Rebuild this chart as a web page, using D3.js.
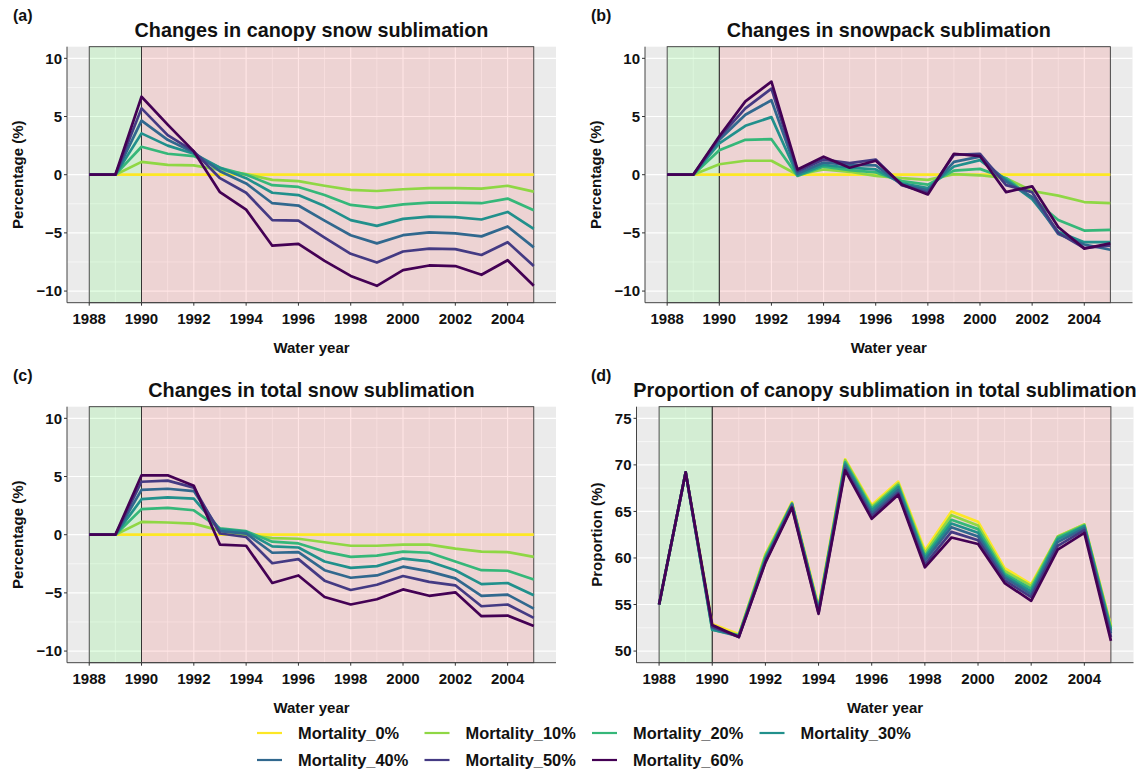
<!DOCTYPE html>
<html><head><meta charset="utf-8">
<script src="https://cdn.jsdelivr.net/npm/d3@7/dist/d3.min.js"></script>
<style>
body{margin:0;background:#fff}
text{font-family:"Liberation Sans",Arial,sans-serif;font-weight:bold;fill:#111}
</style>
</head><body>
<svg id="chart" width="1144" height="774"></svg>
<script>
// ---------------- DATA ----------------
const years = [1988,1989,1990,1991,1992,1993,1994,1995,1996,1997,1998,1999,2000,2001,2002,2003,2004,2005];
const seriesNames = ["Mortality_0%","Mortality_10%","Mortality_20%","Mortality_30%","Mortality_40%","Mortality_50%","Mortality_60%"];
const seriesColors = ["#FDE725","#8FD744","#35B779","#21908C","#31688E","#443A83","#440154"];
const xTicks = [1988,1990,1992,1994,1996,1998,2000,2002,2004];
const pctTicks = [-10,-5,0,5,10];
const propTicks = [50,55,60,65,70,75];

// (a) Changes in canopy snow sublimation (%)
const canopyChange = [
  [0,0,0,0,0,0,0,0,0,0,0,0,0,0,0,0,0,0],
  [0,0,1.1,0.85,0.8,0.4,0.05,-0.45,-0.55,-0.95,-1.3,-1.4,-1.25,-1.15,-1.15,-1.2,-0.95,-1.45],
  [0,0,2.4,1.8,1.6,0.6,0.0,-0.9,-1.05,-1.75,-2.6,-2.85,-2.55,-2.4,-2.4,-2.45,-2.05,-3.05],
  [0,0,3.55,2.5,1.8,0.6,-0.3,-1.55,-1.75,-2.7,-3.9,-4.4,-3.8,-3.6,-3.65,-3.85,-3.2,-4.65],
  [0,0,4.65,3.0,1.9,0.3,-0.75,-2.45,-2.65,-3.95,-5.2,-5.9,-5.2,-4.95,-5.05,-5.3,-4.45,-6.25],
  [0,0,5.7,3.4,2.0,-0.3,-1.55,-3.9,-3.95,-5.4,-6.8,-7.55,-6.6,-6.35,-6.4,-6.9,-5.8,-7.85],
  [0,0,6.7,4.3,2.0,-1.5,-3.0,-6.1,-5.95,-7.4,-8.7,-9.55,-8.2,-7.8,-7.85,-8.6,-7.35,-9.55]
];
// (b) Changes in snowpack sublimation (%)
const snowpackChange = [
  [0,0,0,0,0,0,0,0,0,0,0,0,0,0,0,0,0,0],
  [0,0,0.9,1.2,1.2,0.0,0.45,0.25,-0.1,-0.3,-0.45,0.05,-0.05,-0.3,-1.4,-1.8,-2.35,-2.45],
  [0,0,2.1,3.0,3.05,-0.1,0.7,0.4,0.2,-0.55,-0.85,0.35,0.5,-0.3,-2.0,-3.9,-4.8,-4.75],
  [0,0,2.7,4.2,4.95,-0.05,0.85,0.6,0.45,-0.75,-1.15,0.7,1.25,-0.45,-2.1,-4.9,-5.8,-5.8],
  [0,0,3.0,5.15,6.4,0.1,1.05,0.85,0.8,-0.85,-1.35,1.1,1.55,-0.6,-1.9,-5.1,-6.0,-6.45],
  [0,0,3.2,5.7,7.4,0.3,1.3,1.0,1.3,-0.9,-1.55,1.7,1.8,-0.9,-1.5,-5.0,-6.3,-6.1],
  [0,0,3.3,6.3,8.0,0.45,1.55,0.6,1.2,-0.85,-1.7,1.8,1.6,-1.5,-1.0,-4.5,-6.35,-5.9]
];
// (c) Changes in total snow sublimation (%)
const totalChange = [
  [0,0,0,0,0,0,0,0,0,0,0,0,0,0,0,0,0,0],
  [0,0,1.1,1.05,0.95,0.35,0.0,-0.3,-0.35,-0.65,-0.95,-0.95,-0.85,-0.85,-1.2,-1.45,-1.5,-1.9],
  [0,0,2.2,2.3,2.1,0.55,0.3,-0.6,-0.75,-1.45,-1.9,-1.8,-1.45,-1.55,-2.3,-3.05,-3.1,-3.85],
  [0,0,3.05,3.2,3.1,0.45,0.25,-1.0,-1.1,-2.3,-2.85,-2.7,-2.05,-2.3,-3.05,-4.25,-4.15,-5.2],
  [0,0,3.85,3.95,3.75,0.3,0.1,-1.55,-1.5,-3.05,-3.7,-3.5,-2.75,-3.15,-3.75,-5.25,-5.15,-6.35],
  [0,0,4.55,4.65,4.05,0.1,-0.2,-2.45,-2.1,-3.95,-4.75,-4.3,-3.55,-4.05,-4.35,-6.15,-6.0,-7.15],
  [0,0,5.1,5.1,4.2,-0.85,-0.95,-4.15,-3.5,-5.35,-6.0,-5.55,-4.7,-5.25,-4.95,-7.0,-6.95,-7.85]
];
// (d) Proportion of canopy sublimation in total sublimation (%)
const canopyProportion = [
  [55.0,69.2,52.9,51.8,60.4,66.0,54.8,70.6,65.7,68.2,60.8,65.0,63.9,58.9,57.2,62.3,63.6,52.7],
  [55.0,69.2,52.6,51.7,60.3,65.9,54.6,70.5,65.5,68.0,60.5,64.6,63.5,58.6,57.0,62.3,63.6,52.6],
  [55.0,69.2,52.3,51.7,60.1,65.8,54.5,70.3,65.3,67.8,60.2,64.1,63.1,58.3,56.7,62.2,63.5,52.4],
  [55.0,69.2,52.3,51.6,59.9,65.8,54.4,70.1,65.1,67.6,60.0,63.7,62.7,58.1,56.4,62.0,63.4,52.2],
  [55.0,69.2,52.5,51.6,59.8,65.7,54.3,69.9,64.8,67.3,59.7,63.3,62.3,57.9,56.1,61.7,63.2,51.9],
  [55.0,69.2,52.6,51.5,59.6,65.5,54.1,69.6,64.5,67.0,59.3,62.8,61.9,57.6,55.8,61.3,63.0,51.5],
  [55.0,69.2,52.8,51.5,59.5,65.4,54.0,69.4,64.2,66.8,59.0,62.2,61.5,57.3,55.4,60.9,62.7,51.1]
];
const preStart = 1988, mortStart = 1990, mortEnd = 2005;

// ---------------- LAYOUT ----------------
const panels = [
  {data: canopyChange, tag:"(a)", title:"Changes in canopy snow sublimation", ytitle:"Percentage (%)",
   left:67, right:556, top:46.7, bottom:302.7, tagX:13, ytX:18, lim:[-10,10], ticks:pctTicks},
  {data: snowpackChange, tag:"(b)", title:"Changes in snowpack sublimation", ytitle:"Percentage (%)",
   left:645, right:1132.5, top:46.7, bottom:302.7, tagX:591, ytX:596, lim:[-10,10], ticks:pctTicks},
  {data: totalChange, tag:"(c)", title:"Changes in total snow sublimation", ytitle:"Percentage (%)",
   left:67, right:556, top:406.7, bottom:662.7, tagX:13, ytX:18, lim:[-10,10], ticks:pctTicks},
  {data: canopyProportion, tag:"(d)", title:"Proportion of canopy sublimation in total sublimation", ytitle:"Proportion (%)",
   left:636.5, right:1133.5, top:406.7, bottom:662.7, tagX:591, ytX:597, lim:[50,75], ticks:propTicks}
];

const svg = d3.select("#chart");
svg.append("rect").attr("width",1144).attr("height",774).attr("fill","#fff");
const fmt = v => (v < 0 ? "\u2212" + Math.abs(v) : String(v));

panels.forEach(p => {
  const xr = years[years.length-1] - years[0];
  const x = d3.scaleLinear().domain([years[0]-0.05*xr, years[years.length-1]+0.05*xr]).range([p.left, p.right]);
  const yr = p.lim[1]-p.lim[0];
  const y = d3.scaleLinear().domain([p.lim[0]-0.05*yr, p.lim[1]+0.05*yr]).range([p.bottom, p.top]);
  const g = svg.append("g");

  g.append("rect").attr("x",p.left).attr("y",p.top).attr("width",p.right-p.left).attr("height",p.bottom-p.top).attr("fill","#EBEBEB");

  // minor grid
  const step = p.ticks[1]-p.ticks[0];
  const yMinor = p.ticks.slice(0,-1).map(t => t+step/2);
  const xMinor = d3.range(years[0]+1, years[years.length-1]+1, 2);
  g.selectAll(null).data(yMinor).join("line")
    .attr("x1",p.left).attr("x2",p.right).attr("y1",d=>y(d)).attr("y2",d=>y(d))
    .attr("stroke","#fff").attr("stroke-width",0.6);
  g.selectAll(null).data(xMinor).join("line")
    .attr("y1",p.top).attr("y2",p.bottom).attr("x1",d=>x(d)).attr("x2",d=>x(d))
    .attr("stroke","#fff").attr("stroke-width",0.6);
  // major grid
  g.selectAll(null).data(p.ticks).join("line")
    .attr("x1",p.left).attr("x2",p.right).attr("y1",d=>y(d)).attr("y2",d=>y(d))
    .attr("stroke","#fff").attr("stroke-width",1.2);
  g.selectAll(null).data(xTicks).join("line")
    .attr("y1",p.top).attr("y2",p.bottom).attr("x1",d=>x(d)).attr("x2",d=>x(d))
    .attr("stroke","#fff").attr("stroke-width",1.2);

  // period rectangles
  g.append("rect").attr("x",x(preStart)).attr("width",x(mortStart)-x(preStart))
    .attr("y",p.top).attr("height",p.bottom-p.top)
    .attr("fill","#00FF00").attr("fill-opacity",0.1).attr("stroke","#333").attr("stroke-width",0.9);
  g.append("rect").attr("x",x(mortStart)).attr("width",x(mortEnd)-x(mortStart))
    .attr("y",p.top).attr("height",p.bottom-p.top)
    .attr("fill","#FF0000").attr("fill-opacity",0.1).attr("stroke","#333").attr("stroke-width",0.9);

  // lines
  const line = d3.line().x((d,i)=>x(years[i])).y(d=>y(d));
  p.data.forEach((s,k) => {
    g.append("path").attr("d",line(s)).attr("fill","none")
      .attr("stroke",seriesColors[k]).attr("stroke-width",2.7)
      .attr("stroke-linejoin","round");
  });

  // axes lines
  g.append("line").attr("x1",p.left).attr("x2",p.left).attr("y1",p.top).attr("y2",p.bottom).attr("stroke","#444").attr("stroke-width",1);
  g.append("line").attr("x1",p.left).attr("x2",p.right).attr("y1",p.bottom).attr("y2",p.bottom).attr("stroke","#444").attr("stroke-width",1);

  // ticks + labels
  g.selectAll(null).data(p.ticks).join("line")
    .attr("x1",p.left-3).attr("x2",p.left).attr("y1",d=>y(d)).attr("y2",d=>y(d)).attr("stroke","#333");
  g.selectAll(null).data(p.ticks).join("text")
    .attr("x",p.left-5).attr("y",d=>y(d)+5.4).attr("text-anchor","end")
    .style("font-size","15px").text(fmt);
  g.selectAll(null).data(xTicks).join("line")
    .attr("y1",p.bottom).attr("y2",p.bottom+3).attr("x1",d=>x(d)).attr("x2",d=>x(d)).attr("stroke","#333");
  g.selectAll(null).data(xTicks).join("text")
    .attr("x",d=>x(d)).attr("y",p.bottom+21).attr("text-anchor","middle")
    .style("font-size","15px").text(d=>d);

  // titles
  const cx = (p.left+p.right)/2;
  g.append("text").attr("x",cx).attr("y",p.top-9.8).attr("text-anchor","middle")
    .style("font-size","19.8px").text(p.title);
  g.append("text").attr("x",p.tagX).attr("y",p.top-25.5).style("font-size","16px").text(p.tag);
  g.append("text").attr("x",cx).attr("y",p.bottom+50.5).attr("text-anchor","middle")
    .style("font-size","15px").text("Water year");
  g.append("text").attr("transform",`translate(${p.ytX + 5},${(p.top+p.bottom)/2}) rotate(-90)`)
    .attr("text-anchor","middle").style("font-size","15px").text(p.ytitle);
});

// ---------------- LEGEND ----------------
const legX = [257, 424.5, 592, 759.5];
const legY = [733, 760];
seriesNames.forEach((name,i) => {
  const col = i % 4, row = Math.floor(i/4);
  const lx = legX[col], ly = legY[row];
  svg.append("line").attr("x1",lx).attr("x2",lx+25).attr("y1",ly).attr("y2",ly)
    .attr("stroke",seriesColors[i]).attr("stroke-width",2.2);
  svg.append("text").attr("x",lx+41).attr("y",ly+6).style("font-size","16.4px").text(name);
});
</script>
</body></html>
